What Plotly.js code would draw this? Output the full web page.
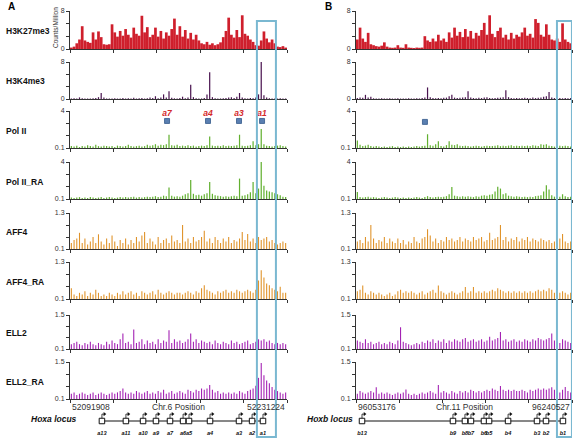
<!DOCTYPE html>
<html><head><meta charset="utf-8">
<script src="https://cdn.plot.ly/plotly-3.0.1.min.js"></script>
<style>html,body{margin:0;padding:0;background:#fff}</style>
</head><body><div id="chart" style="width:574px;height:439px"></div>
<script>
// ---------- DATA ----------
const trackNames = ['H3K27me3','H3K4me3','Pol II','Pol II_RA','AFF4','AFF4_RA','ELL2','ELL2_RA'];
const trackMin = [0,0,0.1,0.1,0.1,0.1,0.1,0.1];
const trackMax = [8,8,4,4,1.3,1.3,1.5,1.5];
const trackMinLabel = ['0','0','0.1','0.1','0.1','0.1','0.1','0.1'];
const trackMaxLabel = ['8','8','4','4','1.3','1.3','1.5','1.5'];

const regionStart = [52091908, 96053176];
const regionEnd = [52231224, 96240527];
const regionChr = ['Chr.6 Position', 'Chr.11 Position'];
const locusNames = ['Hoxa locus', 'Hoxb locus'];

// gene positions (kb from region start)
const hoxaGenes = ['a13','a11','a10','a9','a7','a6','a5','a4','a3','a2','a1'];
const hoxaPos = [20.5,35.9,46.9,55.2,64.2,72.6,76.4,89.9,108.5,116.9,123.9];
const hoxbGenes = ['b13','b9','b8','b7','b6','b5','b4','b3','b2','b1'];
const hoxbPos = [5.2,84.1,94.5,99.7,111.0,115.4,131.9,157.0,164.8,179.5];

// primer / amplicon positions on Pol II track (kb)
const primerLabelsA = ['a7','a4','a3','a1'];
const primerPosA = [62.3,88.6,108.5,123.3];
const primerPosB = [59.8];

// highlighted regions (kb)
const highlightA = [120.0,132.2];
const highlightB = [174.3,187.3];

// signal tracks (80 bins across region)
const A_H3K27me3 = [0.3,0.5,1.2,2.0,4.8,1.8,1.5,1.3,3.5,2.0,3.7,2.5,1.0,0.9,1.0,5.2,3.5,2.6,3.8,2.8,4.2,3.0,2.4,4.5,3.2,2.8,7.0,3.5,4.6,2.5,3.0,4.5,2.6,3.8,2.2,3.5,2.8,4.2,6.4,3.0,4.8,2.6,4.0,2.2,3.4,2.0,3.0,1.8,1.2,1.0,1.5,0.9,1.2,0.8,1.0,1.4,2.5,3.8,6.6,3.0,2.4,4.0,2.5,7.1,3.2,2.8,2.0,1.5,0.8,0.7,1.8,3.7,2.2,1.4,2.0,1.2,0.5,0.4,0.6,0.3];
const A_H3K4me3 = [0.1,0.15,0.1,0.35,0.15,0.1,0.12,0.1,0.15,0.2,0.4,1.3,0.3,0.1,0.12,0.1,0.15,0.1,0.12,0.2,0.1,0.15,0.12,0.25,0.1,0.15,0.2,0.1,0.15,0.3,0.2,0.6,0.15,0.3,1.0,0.3,1.7,0.25,0.15,0.1,0.2,0.5,0.15,0.3,3.1,0.4,0.15,0.1,0.12,0.2,1.0,5.8,0.4,0.15,0.1,0.12,0.15,0.2,0.3,0.4,0.2,0.5,1.3,0.3,0.15,0.1,0.2,0.15,0.3,1.0,8.0,0.8,0.3,0.15,0.1,0.12,0.1,0.15,0.1,0.12];
const A_PolII = [0.3,0.25,0.35,0.2,0.3,0.25,0.4,0.3,0.25,0.45,0.3,0.25,0.35,0.3,0.25,0.3,0.2,0.35,0.3,0.25,0.3,0.45,0.3,0.25,0.3,0.35,0.25,0.3,0.45,0.35,0.4,0.5,0.35,0.45,0.4,0.5,1.5,0.4,0.35,0.45,0.3,0.35,0.3,0.4,0.3,0.35,0.25,0.3,0.35,0.3,0.4,1.3,0.35,0.3,0.35,0.3,0.4,0.3,0.35,0.3,0.35,0.4,1.5,0.35,0.3,0.35,0.4,0.8,0.4,0.5,2.1,0.5,0.35,0.3,0.25,0.3,0.35,0.4,0.3,0.25];
const A_PolII_RA = [0.25,0.2,0.25,0.3,0.2,0.25,0.2,0.3,0.25,0.2,0.25,0.3,0.2,0.25,0.3,0.25,0.2,0.25,0.3,0.25,0.3,0.25,0.3,0.35,0.25,0.3,0.25,0.3,0.35,0.3,0.35,0.4,0.3,0.35,0.45,0.4,1.3,0.45,0.35,0.4,0.35,0.45,0.6,0.7,2.1,0.65,0.5,0.55,0.45,0.6,0.7,1.9,0.65,0.5,0.45,0.4,0.35,0.4,0.35,0.4,0.45,0.4,2.25,0.45,0.5,0.6,0.8,1.9,0.7,1.2,4.0,1.5,1.0,0.9,0.8,0.7,0.6,0.5,0.35,0.3];
const A_AFF4 = [0.3,0.4,0.45,0.64,0.3,0.45,0.25,0.35,0.5,0.3,0.59,0.35,0.25,0.45,0.3,0.55,0.35,0.2,0.4,0.3,0.45,0.25,0.4,0.3,0.5,0.35,0.55,0.67,0.3,0.45,0.35,0.25,0.5,0.3,0.4,0.45,0.3,0.55,0.35,0.4,0.3,0.9,0.35,0.45,0.3,0.5,0.35,0.4,0.5,0.71,0.35,0.45,0.3,0.5,0.4,0.3,0.45,0.35,0.5,0.3,0.4,0.35,0.45,0.67,0.4,0.6,0.35,0.45,0.3,0.5,0.4,0.45,0.5,0.35,0.4,0.3,0.25,0.3,0.35,0.3];
const A_AFF4_RA = [0.45,0.25,0.2,0.3,0.25,0.35,0.2,0.3,0.25,0.4,0.3,0.2,0.25,0.2,0.3,0.25,0.2,0.3,0.25,0.35,0.25,0.3,0.35,0.25,0.3,0.2,0.35,0.3,0.25,0.3,0.35,0.25,0.4,0.3,0.25,0.3,0.35,0.3,0.25,0.3,0.3,0.25,0.3,0.35,0.3,0.25,0.35,0.3,0.45,0.55,0.4,0.35,0.3,0.25,0.35,0.3,0.35,0.4,0.3,0.35,0.3,0.4,0.35,0.3,0.35,0.4,0.35,0.3,0.4,0.7,1.03,0.8,0.6,0.55,0.45,0.4,0.35,0.5,0.3,0.3];
const A_ELL2 = [0.3,0.35,0.4,0.3,0.25,0.35,0.3,0.4,0.3,0.25,0.35,0.3,0.25,0.4,0.3,0.45,0.35,0.3,0.5,0.74,0.35,0.4,0.3,0.9,0.35,0.4,0.5,0.3,0.45,0.35,0.4,0.3,0.5,0.35,0.45,0.4,0.87,0.35,0.5,0.4,0.45,0.35,0.4,0.5,0.74,0.4,0.5,0.35,0.45,0.4,0.35,0.4,0.3,0.45,0.35,0.3,0.4,0.35,0.3,0.45,0.35,0.4,0.3,0.35,0.4,0.45,0.3,0.35,0.4,0.5,0.45,0.5,0.4,0.45,0.35,0.3,0.35,0.3,0.35,0.3];
const A_ELL2_RA = [0.3,0.35,0.25,0.3,0.35,0.3,0.25,0.3,0.35,0.25,0.3,0.35,0.3,0.25,0.3,0.35,0.3,0.35,0.4,0.5,0.35,0.3,0.35,0.3,0.4,0.35,0.3,0.35,0.4,0.3,0.35,0.3,0.4,0.35,0.45,0.3,0.35,0.4,0.3,0.35,0.4,0.35,0.3,0.45,0.4,0.35,0.45,0.4,0.5,0.45,0.5,0.63,0.45,0.35,0.4,0.3,0.35,0.3,0.35,0.3,0.35,0.3,0.4,0.35,0.3,0.4,0.45,0.5,0.6,0.9,1.46,1.0,0.8,0.7,0.55,0.45,0.4,0.35,0.3,0.35];

const B_H3K27me3 = [2.0,4.5,2.2,1.5,3.4,1.0,0.8,0.6,0.5,0.7,1.4,0.5,0.3,0.25,0.3,0.8,0.3,0.25,1.0,0.3,0.25,0.2,0.3,0.25,0.3,2.7,1.8,1.5,2.2,1.6,3.0,1.8,2.2,1.5,3.5,2.4,4.5,2.8,3.6,2.5,4.2,2.6,3.8,2.2,3.4,2.8,4.0,5.5,3.0,7.1,3.2,2.5,3.8,4.5,2.4,3.0,2.0,3.4,2.2,3.0,2.6,3.5,4.5,2.8,3.2,2.4,6.3,5.5,3.0,2.6,5.2,3.0,2.0,1.8,2.2,1.5,5.4,2.0,1.5,1.2];
const B_H3K4me3 = [0.2,0.3,0.25,0.9,0.3,0.5,0.15,0.1,0.12,0.15,0.12,0.1,0.15,0.1,0.12,0.15,0.1,0.12,0.1,0.15,0.12,0.1,0.15,0.12,0.2,0.3,2.5,0.4,0.2,0.15,0.2,0.15,0.25,0.3,0.6,0.9,0.3,0.2,0.25,0.3,0.4,1.7,0.3,0.2,0.15,0.25,0.2,0.3,0.4,0.2,0.15,0.2,0.25,0.3,0.4,1.9,0.4,0.2,0.15,0.2,0.15,0.2,0.25,0.2,0.15,0.3,0.2,0.25,0.3,0.5,0.6,1.5,0.3,0.2,0.15,0.2,0.15,0.2,0.15,0.2];
const B_PolII = [0.9,0.45,0.3,0.35,0.45,0.3,0.25,0.3,0.25,0.2,0.25,0.2,0.25,0.3,0.2,0.25,0.2,0.25,0.2,0.25,0.2,0.25,0.3,0.25,0.3,0.35,1.55,0.4,0.35,0.5,0.8,0.3,0.25,0.4,0.8,0.45,0.4,0.5,0.35,0.3,0.35,0.3,0.25,0.3,0.35,0.3,0.25,0.3,0.35,0.3,0.3,0.35,0.4,0.3,0.35,0.3,0.35,0.4,0.3,0.35,0.3,0.35,0.3,0.35,0.3,0.4,0.35,0.3,0.5,0.45,0.5,0.35,0.3,0.25,0.3,0.35,0.3,0.35,0.3,0.25];
const B_PolII_RA = [0.84,0.3,0.25,0.3,0.35,0.25,0.3,0.25,0.2,0.25,0.3,0.25,0.2,0.25,0.3,0.25,0.2,0.25,0.2,0.25,0.2,0.25,0.3,0.25,0.2,0.3,0.4,0.3,0.25,0.3,0.35,0.3,0.35,0.4,0.6,1.36,0.45,0.4,0.35,0.4,0.35,0.4,0.35,0.3,0.4,0.35,0.45,0.5,0.45,0.55,0.6,0.9,1.4,1.2,0.6,0.7,0.45,0.4,0.35,0.4,0.35,0.3,0.35,0.3,0.35,0.3,0.4,0.45,0.5,0.9,1.54,1.1,0.5,0.35,0.3,0.35,0.6,0.4,0.3,0.35];
const B_AFF4 = [0.35,0.4,0.3,0.5,0.35,0.9,0.45,0.3,0.4,0.35,0.5,0.3,0.45,0.35,0.3,0.45,0.3,0.4,0.25,0.35,0.3,0.5,0.35,0.3,0.45,0.5,0.76,0.55,0.35,0.45,0.3,0.4,0.35,0.5,0.4,0.45,0.35,0.4,0.5,0.35,0.45,0.4,0.35,0.5,0.4,0.45,0.5,0.35,0.4,0.64,0.4,0.45,0.5,0.9,0.4,0.5,0.35,0.45,0.4,0.5,0.35,0.45,0.4,0.5,0.35,0.45,0.4,0.35,0.45,0.4,0.35,0.4,0.3,0.35,0.3,0.45,0.6,0.35,0.3,0.35];
const B_AFF4_RA = [0.35,0.4,0.54,0.3,0.25,0.35,0.3,0.25,0.3,0.25,0.2,0.25,0.3,0.2,0.25,0.35,0.4,0.3,0.35,0.3,0.35,0.3,0.25,0.3,0.35,0.25,0.3,0.35,0.4,0.3,0.54,0.35,0.3,0.25,0.3,0.35,0.3,0.25,0.3,0.35,0.49,0.3,0.35,0.49,0.3,0.35,0.3,0.35,0.3,0.35,0.4,0.35,0.45,0.4,0.35,0.3,0.35,0.3,0.35,0.3,0.35,0.3,0.35,0.3,0.35,0.3,0.35,0.4,0.35,0.4,0.35,0.45,0.4,0.3,0.25,0.3,0.35,0.3,0.25,0.3];
const B_ELL2 = [0.45,0.4,0.35,0.5,0.35,0.4,0.3,0.35,0.4,0.3,0.35,0.3,0.4,0.35,0.3,0.45,1.0,0.4,0.35,0.3,0.25,0.3,0.35,0.3,0.4,0.35,0.45,0.4,0.5,0.35,0.45,0.4,0.5,0.35,0.45,0.4,0.5,0.45,0.4,0.5,0.55,0.4,0.45,0.5,0.4,0.45,0.5,0.4,0.45,0.6,0.45,0.5,0.55,0.8,0.45,0.5,0.4,0.45,0.5,0.4,0.45,0.4,0.5,0.45,0.4,0.5,0.45,0.55,0.5,0.45,0.5,0.55,0.74,0.45,0.4,0.35,0.5,0.45,0.4,0.35];
const B_ELL2_RA = [0.3,0.4,0.35,0.3,0.35,0.4,0.35,0.54,0.3,0.35,0.3,0.35,0.3,0.25,0.3,0.35,0.3,0.35,0.46,0.3,0.25,0.3,0.25,0.3,0.35,0.3,0.35,0.4,0.35,0.3,0.63,0.35,0.4,0.35,0.3,0.4,0.35,0.3,0.4,0.35,0.4,0.35,0.45,0.4,0.35,0.4,0.35,0.4,0.45,0.4,0.5,0.45,0.4,0.59,0.45,0.4,0.45,0.4,0.45,0.4,0.4,0.45,0.4,0.35,0.45,0.4,0.45,0.5,0.45,0.5,0.45,0.5,0.54,0.45,0.4,0.35,0.45,0.55,0.4,0.35];

const panelTracks = [
  [A_H3K27me3,A_H3K4me3,A_PolII,A_PolII_RA,A_AFF4,A_AFF4_RA,A_ELL2,A_ELL2_RA],
  [B_H3K27me3,B_H3K4me3,B_PolII,B_PolII_RA,B_AFF4,B_AFF4_RA,B_ELL2,B_ELL2_RA]
];

// ---------- STYLE / LAYOUT ----------
const trackColors = ['#cf1f2c','#4a1450','#62b030','#62b030','#e0932a','#e0932a','#a321b3','#a321b3'];
const trackWidthFrac = [1.0,0.45,0.45,0.45,0.4,0.4,0.4,0.4];
const W=574, H=439;
const px = p => p/W, py = p => 1 - p/H;
const trackTop = [11,62,111,162,213,262,315,362];
const trackBot = [49,99,148,199,249,299,349,399];
const panelLeft = [70,356], panelRight = [287,572];
const FONT = 'Liberation Sans, Arial, sans-serif';

const traces = [];
const layout = {
  width: W, height: H, margin: {l:0,r:0,t:0,b:0},
  paper_bgcolor:'#fff', plot_bgcolor:'rgba(0,0,0,0)',
  showlegend:false, font:{family:FONT, color:'#222'},
  annotations: [], shapes: []
};
const axName = n => n===1 ? '' : String(n);

for (let p=0; p<2; p++) {
  const L = (regionEnd[p]-regionStart[p])/1000;
  for (let t=0; t<8; t++) {
    const n = p*8 + t + 1;
    const vals = panelTracks[p][t];
    const N = vals.length, bw = L/N;
    const xs = vals.map((v,i)=> (i+0.5)*bw);
    traces.push({type:'bar', x:xs, y:vals, width:bw*trackWidthFrac[t],
      marker:{color:trackColors[t], line:{width:0}},
      xaxis:'x'+axName(n), yaxis:'y'+axName(n), hoverinfo:'skip'});
    const lo = trackMin[t], hi = trackMax[t];
    layout['xaxis'+axName(n)] = {
      domain:[px(panelLeft[p]), px(panelRight[p])], range:[0,L], anchor:'y'+axName(n),
      showline:true, linecolor:'#333', linewidth:1, ticks:'outside', ticklen:3, tickcolor:'#333',
      tickvals:[0,L/5,2*L/5,3*L/5,4*L/5,L], showticklabels:false, showgrid:false, zeroline:false, fixedrange:true
    };
    layout['yaxis'+axName(n)] = {
      domain:[py(trackBot[t]), py(trackTop[t])], range:[lo,hi], anchor:'x'+axName(n),
      showline:true, linecolor:'#333', linewidth:1, ticks:'outside', ticklen:3, tickcolor:'#333',
      tickvals:[lo, lo+(hi-lo)/3, lo+2*(hi-lo)/3, hi], ticktext:[trackMinLabel[t],'','',trackMaxLabel[t]],
      tickfont:{size:7, color:'#333'}, showgrid:false, zeroline:false, fixedrange:true
    };
    if (p===0) {
      layout.annotations.push({text:'<b>'+trackNames[t]+'</b>', xref:'paper', yref:'paper',
        x:px(4), y:py((trackTop[t]+trackBot[t])/2 + 1), xanchor:'left', yanchor:'middle',
        showarrow:false, font:{size:8.5, color:'#111'}});
    }
  }
  // position labels
  layout.annotations.push({text:String(regionStart[p]), xref:'paper', yref:'paper', x:px(panelLeft[p]), y:py(407),
    xanchor:'left', yanchor:'middle', showarrow:false, font:{size:8.5, color:'#333'}});
  layout.annotations.push({text:regionChr[p], xref:'paper', yref:'paper', x:px((panelLeft[p]+panelRight[p])/2), y:py(407),
    xanchor:'center', yanchor:'middle', showarrow:false, font:{size:8.5, color:'#333'}});
  layout.annotations.push({text:String(regionEnd[p]), xref:'paper', yref:'paper', x:px(panelRight[p]), y:py(407),
    xanchor:'right', yanchor:'middle', showarrow:false, font:{size:8.5, color:'#333'}});

  // gene axis: domain px 410..438, range -5..10
  const g = 17 + p;
  layout['xaxis'+g] = {domain:[px(panelLeft[p]), px(panelRight[p])], range:[0,L], anchor:'y'+g, visible:false, fixedrange:true};
  layout['yaxis'+g] = {domain:[py(438), py(410)], range:[-5,10], anchor:'x'+g, visible:false, fixedrange:true};
  const gNames = p===0 ? hoxaGenes : hoxbGenes;
  const gPos = p===0 ? hoxaPos : hoxbPos;
  const arrowLen = 2.6 * L / (panelRight[p]-panelLeft[p]);
  traces.push({type:'scatter', mode:'lines', x:[gPos[0], gPos[gPos.length-1]], y:[4.1,4.1],
    line:{color:'#111', width:1}, xaxis:'x'+g, yaxis:'y'+g, hoverinfo:'skip'});
  const ax=[], ay=[];
  gPos.forEach(v=>{ ax.push(v, v, v+arrowLen, null); ay.push(5.5, 7.8, 7.8, null); });
  traces.push({type:'scatter', mode:'lines', x:ax, y:ay, line:{color:'#111', width:0.8},
    xaxis:'x'+g, yaxis:'y'+g, hoverinfo:'skip'});
  traces.push({type:'scatter', mode:'markers', x:gPos.map(v=>v+arrowLen), y:gPos.map(()=>7.8),
    marker:{symbol:'triangle-right', size:3.5, color:'#111'}, xaxis:'x'+g, yaxis:'y'+g, hoverinfo:'skip'});
  traces.push({type:'scatter', mode:'markers', x:gPos, y:gPos.map(()=>4.1),
    marker:{symbol:'square', size:5.5, color:'#fff', line:{color:'#111', width:1}},
    xaxis:'x'+g, yaxis:'y'+g, hoverinfo:'skip'});
  traces.push({type:'scatter', mode:'text', x:gPos, y:gPos.map(()=>-2.4), text:gNames.map(s=>'<b><i>'+s+'</i></b>'),
    textposition:'middle center', textfont:{size:5.6, color:'#111'}, xaxis:'x'+g, yaxis:'y'+g, hoverinfo:'skip'});
  layout.annotations.push({text:'<b><i>'+locusNames[p]+'</i></b>', xref:'paper', yref:'paper',
    x:px(p===0?79:355), y:py(419), xanchor:'right', yanchor:'middle', showarrow:false, font:{size:8.5, color:'#111'}});
}

// primers on Pol II track
traces.push({type:'scatter', mode:'markers', x:primerPosA, y:primerPosA.map(()=>2.95),
  marker:{symbol:'square', size:5, color:'#5a7fb1', line:{color:'#34598a', width:0.8}}, xaxis:'x3', yaxis:'y3', hoverinfo:'skip'});
traces.push({type:'scatter', mode:'text', x:primerPosA, y:primerPosA.map(()=>3.65), text:primerLabelsA.map(s=>'<b><i>'+s+'</i></b>'),
  textposition:'middle center', textfont:{size:8.5, color:'#d42a2a'}, xaxis:'x3', yaxis:'y3', hoverinfo:'skip', cliponaxis:false});
traces.push({type:'scatter', mode:'markers', x:primerPosB, y:primerPosB.map(()=>2.85),
  marker:{symbol:'square', size:5, color:'#5a7fb1', line:{color:'#34598a', width:0.8}}, xaxis:'x11', yaxis:'y11', hoverinfo:'skip'});

// highlight boxes
layout.shapes.push({type:'rect', xref:'x', yref:'paper', x0:highlightA[0], x1:highlightA[1], y0:py(437), y1:py(21),
  line:{color:'#7ab8d1', width:2}, fillcolor:'rgba(0,0,0,0)', layer:'above'});
layout.shapes.push({type:'rect', xref:'x9', yref:'paper', x0:highlightB[0], x1:highlightB[1], y0:py(437), y1:py(21),
  line:{color:'#7ab8d1', width:2}, fillcolor:'rgba(0,0,0,0)', layer:'above'});

// panel letters and y-title
layout.annotations.push({text:'<b>A</b>', xref:'paper', yref:'paper', x:px(6), y:py(7), xanchor:'left', yanchor:'middle', showarrow:false, font:{size:10, color:'#000'}});
layout.annotations.push({text:'<b>B</b>', xref:'paper', yref:'paper', x:px(323), y:py(7), xanchor:'left', yanchor:'middle', showarrow:false, font:{size:10, color:'#000'}});
layout.annotations.push({text:'Counts/Million', xref:'paper', yref:'paper', x:px(55), y:py(28), textangle:-90,
  xanchor:'center', yanchor:'middle', showarrow:false, font:{size:6.5, color:'#333'}});

Plotly.newPlot('chart', traces, layout, {staticPlot:true, displayModeBar:false});
</script>
</body></html>
